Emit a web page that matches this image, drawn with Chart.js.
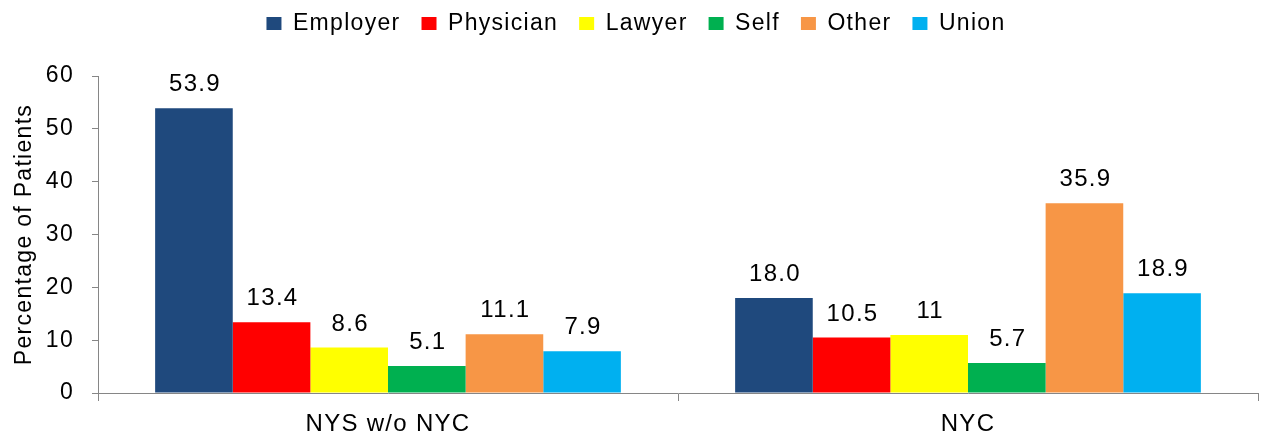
<!DOCTYPE html>
<html><head><meta charset="utf-8">
<script src="https://cdn.jsdelivr.net/npm/chart.js@4.4.1/dist/chart.umd.min.js"></script>
<style>html,body{margin:0;padding:0;background:#fff}#wrap{width:1261px;height:434px}</style>
</head><body><div id="wrap"><canvas id="c" width="1261" height="434"></canvas></div>
<script>
const categories = ["NYS w/o NYC", "NYC"];
const seriesNames = ["Employer", "Physician", "Lawyer", "Self", "Other", "Union"];
const employer = [53.9, 18.0];
const physician = [13.4, 10.5];
const lawyer = [8.6, 11];
const self = [5.1, 5.7];
const other = [11.1, 35.9];
const union = [7.9, 18.9];
const employerLabels = ["53.9", "18.0"];
const physicianLabels = ["13.4", "10.5"];
const lawyerLabels = ["8.6", "11"];
const selfLabels = ["5.1", "5.7"];
const otherLabels = ["11.1", "35.9"];
const unionLabels = ["7.9", "18.9"];
const yTicks = [0, 10, 20, 30, 40, 50, 60];
const colors = ["#1F497D", "#FF0000", "#FFFF00", "#00B050", "#F79646", "#00B0F0"];

const values = [employer, physician, lawyer, self, other, union];
const labels = [employerLabels, physicianLabels, lawyerLabels, selfLabels, otherLabels, unionLabels];

const FONT = "'Liberation Sans', Arial, sans-serif";
const SPACING = '1.3px';
const LEGEND_PAD = 21;

const spacingPlugin = {
  id: 'spacing',
  beforeUpdate(chart) {
    chart.ctx.letterSpacing = SPACING;
    const lg = chart.legend;
    if (lg && !lg._patched) {
      const f = lg.fit;
      lg.fit = function () { f.call(this); this.height += 40 - 2 * (LEGEND_PAD - 12); };
      const d = lg.draw;
      lg.draw = function () {
        const ctx = this.ctx;
        ctx.save();
        ctx.translate(7, -(LEGEND_PAD - 12));
        d.call(this);
        ctx.restore();
      };
      lg._patched = true;
    }
  },
  beforeLayout(chart) { chart.ctx.letterSpacing = SPACING; },
  beforeDraw(chart) { chart.ctx.letterSpacing = SPACING; }
};

const valueLabels = {
  id: 'valueLabels',
  afterDatasetsDraw(chart) {
    const ctx = chart.ctx;
    ctx.save();
    ctx.letterSpacing = SPACING;
    ctx.font = "24px " + FONT;
    ctx.fillStyle = "#000";
    ctx.textAlign = "center";
    ctx.textBaseline = "alphabetic";
    chart.data.datasets.forEach((ds, i) => {
      const meta = chart.getDatasetMeta(i);
      meta.data.forEach((bar, j) => {
        ctx.fillText(ds.valueText[j], bar.x + 1, bar.y - 17);
      });
    });
    ctx.restore();
  }
};

new Chart(document.getElementById('c'), {
  type: 'bar',
  data: {
    labels: categories,
    datasets: seriesNames.map((n, i) => ({
      label: n,
      data: values[i],
      valueText: labels[i],
      backgroundColor: colors[i],
      borderWidth: 0,
      categoryPercentage: 0.803,
      barPercentage: 1.0
    }))
  },
  options: {
    responsive: false,
    animation: false,
    devicePixelRatio: 1,
    layout: { padding: { left: 0, right: 3, top: 0, bottom: 0 } },
    plugins: {
      legend: {
        position: 'top',
        labels: {
          boxWidth: 15, boxHeight: 13, padding: LEGEND_PAD,
          color: '#000',
          font: { family: FONT, size: 23 }
        }
      },
      tooltip: { enabled: false }
    },
    scales: {
      x: {
        grid: { display: true, offset: true, drawOnChartArea: false, drawTicks: true, tickLength: 8, color: '#868686', lineWidth: 1 },
        border: { display: true, color: '#868686', width: 1 },
        ticks: { color: '#000', font: { family: FONT, size: 24 }, padding: 9 },
        afterFit(s) { s.height = 41; }
      },
      y: {
        min: 0, max: 60,
        afterBuildTicks(s) { s.ticks = yTicks.map(v => ({ value: v })); },
        grid: { display: true, drawOnChartArea: false, drawTicks: true, tickLength: 6, color: '#868686' },
        border: { display: true, color: '#868686', width: 1 },
        ticks: { color: '#000', font: { family: FONT, size: 23 }, padding: 18 },
        title: { display: true, text: 'Percentage of Patients', color: '#000', font: { family: FONT, size: 23 }, padding: { top: 11, bottom: 0 } },
        afterFit(s) { s.width = 98; }
      }
    }
  },
  plugins: [spacingPlugin, valueLabels]
});
</script></body></html>
